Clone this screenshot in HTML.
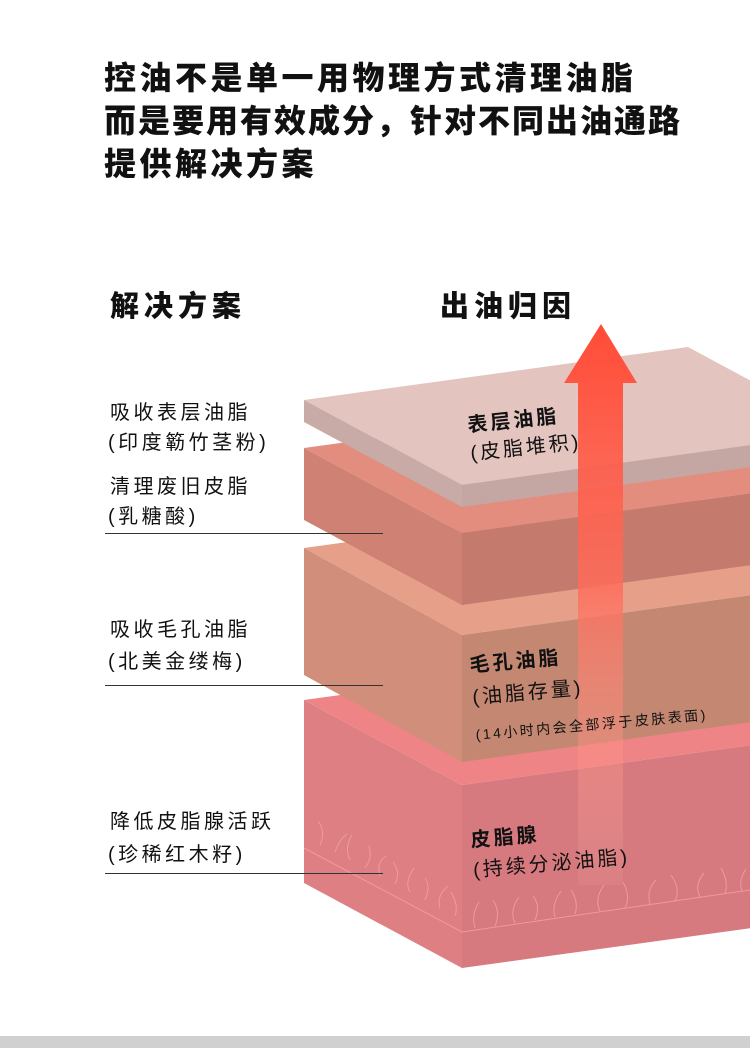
<!DOCTYPE html>
<html><head><meta charset="utf-8"><style>
html,body{margin:0;padding:0;background:#fff;}
svg{display:block;}
text{font-family:"Liberation Sans","Noto Sans CJK SC",sans-serif;fill:#111;}
</style></head><body>
<svg width="750" height="1048" viewBox="0 0 750 1048" xmlns="http://www.w3.org/2000/svg">
<defs>
<linearGradient id="ar" x1="0" y1="0" x2="0" y2="1">
<stop offset="0" stop-color="#ff4b36"/>
<stop offset="0.45" stop-color="#ff6a58" stop-opacity="0.85"/>
<stop offset="1" stop-color="#ffb0a8" stop-opacity="0.1"/>
</linearGradient>
</defs>
<rect x="0" y="0" width="750" height="1048" fill="#fff"/>
<g font-weight="900" font-size="32">
<text x="104" y="89" letter-spacing="3.5">控油不是单一用物理方式清理油脂</text>
<text x="104" y="132" letter-spacing="2">而是要用有效成分，针对不同出油通路</text>
<text x="104" y="175" letter-spacing="3.5">提供解决方案</text>
</g>
<text x="110" y="316" font-size="29" font-weight="900" letter-spacing="5">解决方案</text>
<text x="440" y="316" font-size="29" font-weight="900" letter-spacing="5">出油归因</text>

<!-- layer 4 -->
<polygon points="304,700 462,785 846,732 688,647" fill="#ef8486"/>
<polygon points="304,700 462,785 462,968 304,883" fill="#de7f83"/>
<polygon points="462,785 846,732 846,915 462,968" fill="#d67a7f"/>
<g stroke="#f4a2a4" stroke-width="1" fill="none" opacity="0.8">
<polyline points="304,848 462,932 750,890"/>
<path d="M320,845 q6,-14 -2,-24 M335,852 q4,-12 12,-18 M350,860 q-6,-12 2,-25 M365,868 q8,-10 4,-22 M380,876 q-4,-14 6,-20 M395,884 q6,-12 -2,-22 M410,892 q-6,-10 4,-24 M425,900 q6,-14 0,-22 M440,908 q-4,-12 8,-22 M455,916 q4,-10 -4,-24 M475,928 q-4,-14 4,-26 M495,926 q6,-14 -2,-26 M515,923 q-6,-12 4,-26 M535,920 q6,-14 -2,-24 M555,917 q-4,-12 6,-26 M575,914 q4,-12 -4,-24 M600,911 q-6,-12 4,-26 M625,908 q6,-12 -2,-26 M650,904 q-4,-14 6,-24 M675,901 q6,-12 -4,-26 M700,897 q-6,-12 4,-24 M725,894 q4,-12 -4,-26 M742,891 q-4,-10 4,-22"/>
</g>
<!-- layer 3 -->
<polygon points="304,548 462,635 846,582 688,495" fill="#e6a08a"/>
<polygon points="304,548 462,635 462,762 304,675" fill="#d08e7b"/>
<polygon points="462,635 846,582 846,709 462,762" fill="#c48872"/>
<!-- layer 2 -->
<polygon points="304,448 462,533 846,480 688,395" fill="#e38d7f"/>
<polygon points="304,448 462,533 462,605 304,520" fill="#cf8174"/>
<polygon points="462,533 846,480 846,552 462,605" fill="#c47b6e"/>
<!-- top slab -->
<polygon points="304,400 462,485 846,432 688,347" fill="#e3c4bf"/>
<polygon points="304,400 462,485 462,507 304,422" fill="#c8aaa6"/>
<polygon points="462,485 846,432 846,454 462,507" fill="#c4a7a3"/>

<!-- arrow -->
<polygon points="601,324 637,383 623,383 623,885 578,885 578,383 564,383" fill="url(#ar)"/>

<!-- left labels -->
<g font-size="20" letter-spacing="3.5">
<text x="110" y="419">吸收表层油脂</text>
<text x="108" y="449">(印度簕竹茎粉)</text>
<text x="110" y="493">清理废旧皮脂</text>
<text x="108" y="523">(乳糖酸)</text>
<text x="110" y="636">吸收毛孔油脂</text>
<text x="108" y="668">(北美金缕梅)</text>
<text x="110" y="828">降低皮脂腺活跃</text>
<text x="108" y="861">(珍稀红木籽)</text>
</g>
<g stroke="#333" stroke-width="1">
<line x1="105" y1="533.5" x2="383" y2="533.5"/>
<line x1="105" y1="685.5" x2="383" y2="685.5"/>
<line x1="105" y1="873.5" x2="383" y2="873.5"/>
</g>

<!-- right labels (skewed) -->
<g font-size="20" font-weight="bold" letter-spacing="3">
<g transform="rotate(-6 468 430)">
<text x="468" y="432">表层油脂</text>
<text x="468" y="460" font-weight="normal">(皮脂堆积)</text>
</g>
<g transform="rotate(-5 470 670)">
<text x="470" y="672">毛孔油脂</text>
<text x="470" y="704" font-weight="normal">(油脂存量)</text>
<text x="470" y="740" font-size="14" font-weight="normal" fill="#333" letter-spacing="2.5">(14小时内会全部浮于皮肤表面)</text>
</g>
<g transform="rotate(-5 471 845)">
<text x="471" y="847">皮脂腺</text>
<text x="471" y="877" font-weight="normal">(持续分泌油脂)</text>
</g>
</g>

<rect x="0" y="1036" width="750" height="12" fill="#d0d0d0"/>
</svg>
</body></html>
